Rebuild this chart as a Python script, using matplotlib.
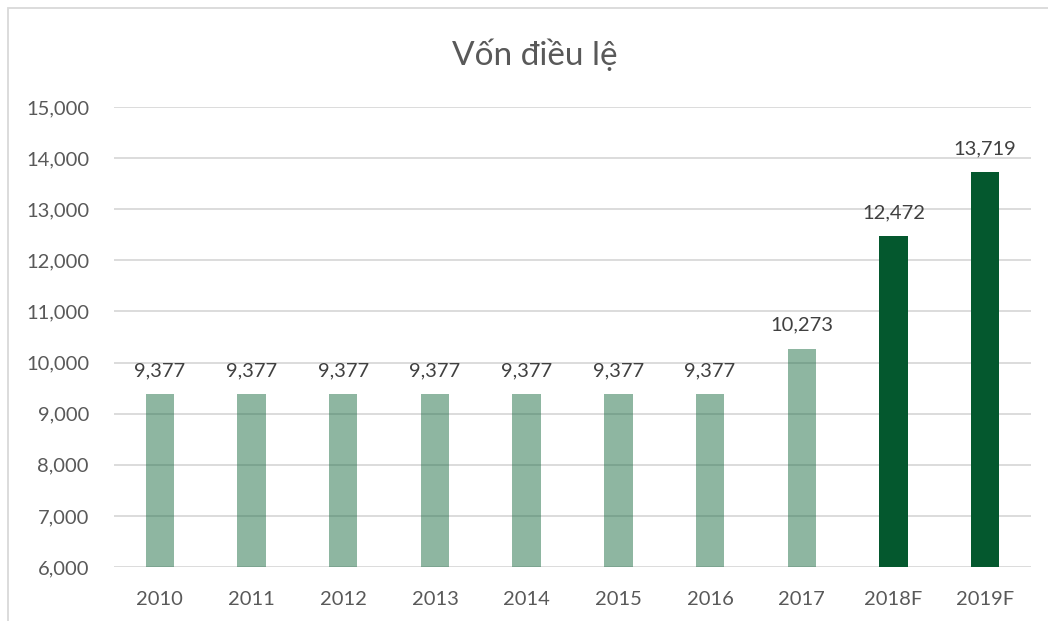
import matplotlib
matplotlib.use("Agg")
import matplotlib.pyplot as plt
from matplotlib.patches import Rectangle
from matplotlib.ticker import FuncFormatter, MultipleLocator

categories = ["2010", "2011", "2012", "2013", "2014", "2015", "2016", "2017", "2018F", "2019F"]
values = [9377, 9377, 9377, 9377, 9377, 9377, 9377, 10273, 12472, 13719]
forecast = [False] * 8 + [True, True]
title = "Vốn điều lệ"

plt.rcParams['font.family'] = ['Lato', 'Open Sans', 'DejaVu Sans']
text_color = "#595959"
light = "#1E6E45"
dark = "#04582E"

fig = plt.figure(figsize=(10.48, 6.21), dpi=100)
fig.patch.set_facecolor("white")
# outer frame
fig.add_artist(Rectangle((8 / 1048, -0.05), 1.1, (621 - 8) / 621 + 0.05, transform=fig.transFigure,
                         fill=False, edgecolor="#D9D9D9", linewidth=1.3))

ax = fig.add_axes([114 / 1048, (621 - 567) / 621, (1031 - 114) / 1048, (567 - 107) / 621])
x = list(range(len(categories)))
for xi, v, f in zip(x, values, forecast):
    if f:
        ax.bar(xi, v - 6000, bottom=6000, width=0.31, color=dark, zorder=3)
    else:
        ax.bar(xi, v - 6000, bottom=6000, width=0.31, color=light, alpha=0.5, zorder=3)
    ax.annotate(f"{v:,}", (xi, v), xytext=(0, 11), textcoords="offset points",
                ha="center", va="bottom", fontsize=14.5, color="#404040")

ax.set_ylim(6000, 15000)
ax.set_xlim(-0.5, len(categories) - 0.5)
ax.yaxis.set_major_locator(MultipleLocator(1000))
ax.yaxis.set_major_formatter(FuncFormatter(lambda v, p: f"{int(v):,}"))
ax.set_xticks(x)
ax.set_xticklabels(categories)
ax.grid(axis="y", color="#D9D9D9", linewidth=1.3, zorder=0)
ax.set_axisbelow(True)
for s in ax.spines.values():
    s.set_visible(False)
ax.tick_params(axis="both", length=0, labelsize=14.5, labelcolor=text_color)
ax.tick_params(axis="y", pad=18)
ax.tick_params(axis="x", pad=17)

fig.text(0.51, 1 - 55 / 621, title, ha="center", va="center", fontsize=24, color=text_color)

fig.savefig("out.png", dpi=100)
